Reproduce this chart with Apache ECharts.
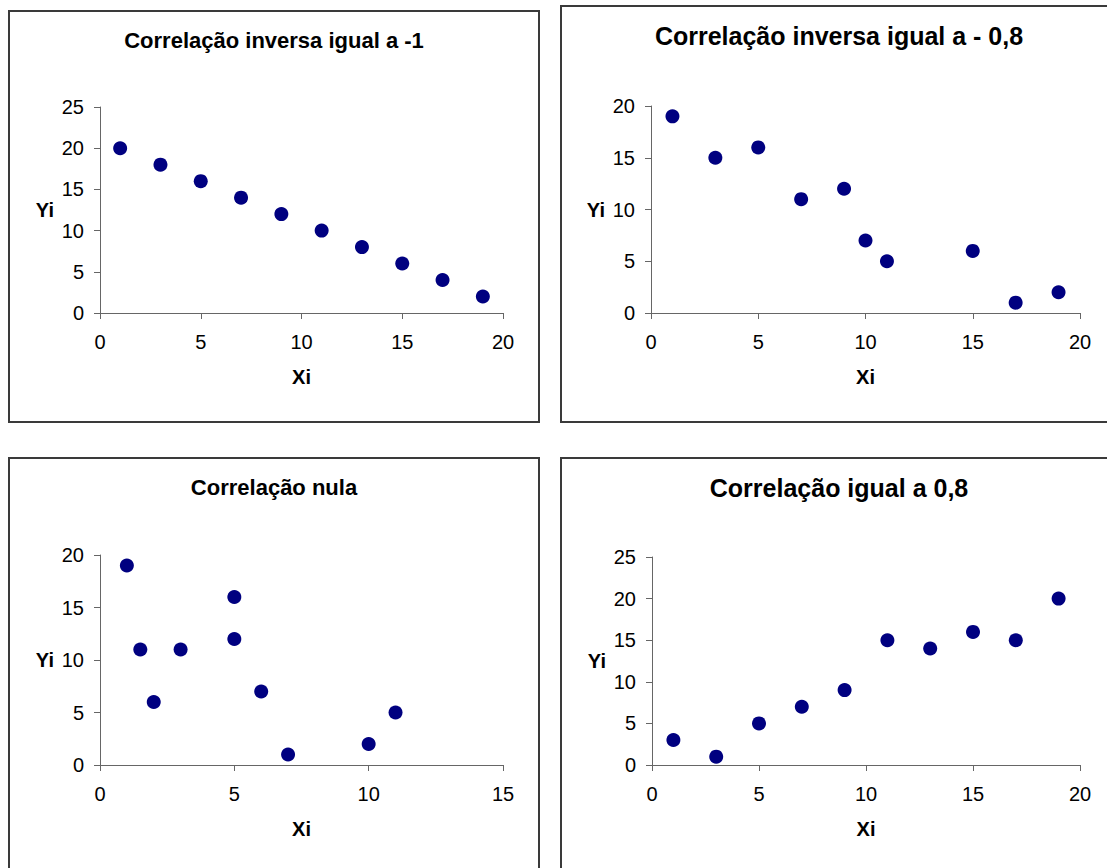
<!DOCTYPE html>
<html>
<head>
<meta charset="utf-8">
<script src="https://cdn.jsdelivr.net/npm/echarts@6/dist/echarts.min.js"></script>
<style>
html,body{margin:0;padding:0;background:#fff;}
#c{width:1107px;height:868px;}
</style>
</head>
<body>
<div id="c"></div>
<script>
// Panel titles
var titles = ['Correlação inversa igual a -1', 'Correlação inversa igual a - 0,8', 'Correlação nula', 'Correlação igual a 0,8'];
var xName = 'Xi';
var yName = 'Yi';

// Panel 1: Correlação inversa igual a -1
var p1X = [1, 3, 5, 7, 9, 11, 13, 15, 17, 19];
var p1Y = [20, 18, 16, 14, 12, 10, 8, 6, 4, 2];
// Panel 2: Correlação inversa igual a - 0,8
var p2X = [1, 3, 5, 7, 9, 10, 11, 15, 17, 19];
var p2Y = [19, 15, 16, 11, 12, 7, 5, 6, 1, 2];
// Panel 3: Correlação nula
var p3X = [1, 1.5, 2, 3, 5, 5, 6, 7, 10, 11];
var p3Y = [19, 11, 6, 11, 16, 12, 7, 1, 2, 5];
// Panel 4: Correlação igual a 0,8
var p4X = [1, 3, 5, 7, 9, 11, 13, 15, 17, 19];
var p4Y = [3, 1, 5, 7, 9, 15, 14, 16, 15, 20];

// Axis ranges [xMax, yMax], interval 5
var xMax = [20, 20, 15, 20];
var yMax = [25, 20, 20, 25];
var tickStep = 5;

var xs = [p1X, p2X, p3X, p4X];
var ys = [p1Y, p2Y, p3Y, p4Y];

var FONT = '"Liberation Sans", Arial, Helvetica, sans-serif';
var grids = [
  {left: 100, top: 107, width: 403, height: 206},
  {left: 651, top: 106, width: 429, height: 207},
  {left: 100, top: 555, width: 403, height: 210},
  {left: 652, top: 557, width: 428, height: 208}
];
var titlePos = [
  {x: 274, y: 40, size: 22},
  {x: 839, y: 36, size: 25},
  {x: 274, y: 487, size: 22},
  {x: 839, y: 488, size: 25}
];
var boxes = [
  {x: 9, y: 11, width: 530, height: 411},
  {x: 561, y: 6, width: 560, height: 416},
  {x: 9, y: 458, width: 530, height: 420},
  {x: 561, y: 458, width: 560, height: 420}
];

var axisLineStyle = {color: '#666666', width: 1};
var option = {
  backgroundColor: '#ffffff',
  animation: false,
  title: titles.map(function (t, i) {
    return {
      text: t, left: titlePos[i].x, top: titlePos[i].y, padding: 0,
      textAlign: 'center', textVerticalAlign: 'middle',
      textStyle: {fontFamily: FONT, fontWeight: 'bold', fontSize: titlePos[i].size, color: '#000'}
    };
  }),
  graphic: boxes.map(function (b) {
    return {type: 'rect', shape: b, style: {fill: 'none', stroke: '#3a3a3a', lineWidth: 2}, silent: true};
  }),
  grid: grids.map(function (g) { return Object.assign({containLabel: false}, g); }),
  xAxis: xMax.map(function (m, i) {
    return {
      type: 'value', gridIndex: i, min: 0, max: m, interval: tickStep,
      name: xName, nameLocation: 'middle', nameGap: 54,
      nameTextStyle: {fontFamily: FONT, fontWeight: 'bold', fontSize: 20, color: '#000'},
      axisLine: {show: true, onZero: false, lineStyle: axisLineStyle},
      axisTick: {show: true, inside: false, length: 6, lineStyle: axisLineStyle},
      axisLabel: {fontFamily: FONT, fontSize: 20, color: '#000', margin: 19},
      splitLine: {show: false}
    };
  }),
  yAxis: yMax.map(function (m, i) {
    return {
      type: 'value', gridIndex: i, min: 0, max: m, interval: tickStep,
      name: yName, nameLocation: 'middle', nameGap: 46, nameRotate: 0,
      nameTextStyle: {fontFamily: FONT, fontWeight: 'bold', fontSize: 20, color: '#000'},
      axisLine: {show: true, onZero: false, lineStyle: axisLineStyle},
      axisTick: {show: true, inside: false, length: 6, lineStyle: axisLineStyle},
      axisLabel: {fontFamily: FONT, fontSize: 20, color: '#000', margin: 16},
      splitLine: {show: false}
    };
  }),
  series: xs.map(function (xv, i) {
    return {
      type: 'scatter', xAxisIndex: i, yAxisIndex: i,
      symbol: 'circle', symbolSize: 14,
      itemStyle: {color: '#000080', opacity: 1},
      data: xv.map(function (x, k) { return [x, ys[i][k]]; })
    };
  })
};
var chart = echarts.init(document.getElementById('c'), null, {renderer: 'svg'});
chart.setOption(option);
</script>
</body>
</html>
